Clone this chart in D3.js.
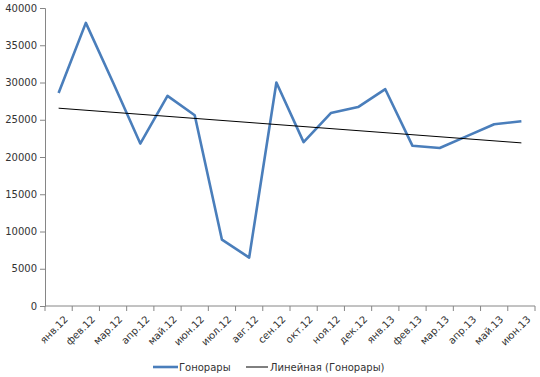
<!DOCTYPE html>
<html>
<head>
<meta charset="utf-8">
<script src="https://cdn.jsdelivr.net/npm/d3@7"></script>
<style>
  body { margin: 0; background: #fff; }
  text { font-family: "DejaVu Sans", sans-serif; fill: #333; }
</style>
</head>
<body>
<div id="chart"></div>
<script>
const months = ["янв.12", "фев.12", "мар.12", "апр.12", "май.12", "июн.12", "июл.12", "авг.12", "сен.12",
  "окт.12", "ноя.12", "дек.12", "янв.13", "фев.13", "мар.13", "апр.13", "май.13", "июн.13"];
const fees = [28600, 38000, 30000, 21800, 28200, 25600, 8900, 6500, 30000,
  22000, 25900, 26700, 29100, 21500, 21200, 22800, 24400, 24800];
const yTicks = [0, 5000, 10000, 15000, 20000, 25000, 30000, 35000, 40000];

const width = 540, height = 377;
const margin = { top: 8, right: 5, bottom: 71, left: 45 };
const w = width - margin.left - margin.right;
const h = height - margin.top - margin.bottom;
const lineColor = "#4A7EBB";
const axisColor = "#868686";

const svg = d3.select("#chart").append("svg")
  .attr("width", width).attr("height", height);
const g = svg.append("g")
  .attr("transform", "translate(" + margin.left + "," + margin.top + ")");

const x = d3.scaleBand().domain(months).range([0, w]);
const y = d3.scaleLinear().domain([0, 40000]).range([h, 0]);
const cx = d => x(d) + x.bandwidth() / 2;

// y axis
const yAxis = g.append("g")
  .call(d3.axisLeft(y).tickValues(yTicks).tickSize(5).tickPadding(3).tickFormat(d3.format("d")));
yAxis.select(".domain").attr("stroke", axisColor);
yAxis.selectAll(".tick line").attr("stroke", axisColor);
yAxis.selectAll(".tick text").style("font-size", "10px").attr("fill", "#333");

// x axis, ticks on category boundaries
const xAxis = g.append("g").attr("transform", "translate(0," + h + ")");
xAxis.append("line").attr("x1", 0).attr("x2", w).attr("stroke", axisColor);
xAxis.selectAll(".bt").data(months.concat(["end"])).join("line")
  .attr("class", "bt")
  .attr("x1", (d, i) => i * x.step()).attr("x2", (d, i) => i * x.step())
  .attr("y1", 0).attr("y2", 5).attr("stroke", axisColor);
xAxis.selectAll(".lbl").data(months).join("text")
  .attr("class", "lbl")
  .attr("text-anchor", "end")
  .style("font-size", "10px")
  .attr("transform", d => "translate(" + (cx(d) + 5) + ",9) rotate(-45)")
  .attr("dy", "0.7em")
  .text(d => d);

// linear trend (least squares)
const n = fees.length;
const mx = (n - 1) / 2;
const my = d3.mean(fees);
const sxy = d3.sum(fees, (v, i) => (i - mx) * (v - my));
const sxx = d3.sum(fees, (v, i) => (i - mx) * (i - mx));
const slope = sxy / sxx;
const trend = [0, n - 1].map(i => ({ m: months[i], v: my + slope * (i - mx) }));

// data line
g.append("path")
  .datum(months.map((m, i) => ({ m: m, v: fees[i] })))
  .attr("fill", "none")
  .attr("stroke", lineColor)
  .attr("stroke-width", 2.6)
  .attr("stroke-linejoin", "round")
  .attr("d", d3.line().x(d => cx(d.m)).y(d => y(d.v)));

g.append("path")
  .datum(trend)
  .attr("fill", "none")
  .attr("stroke", "#000")
  .attr("stroke-width", 1)
  .attr("d", d3.line().x(d => cx(d.m)).y(d => y(d.v)));

// legend
const legend = svg.append("g").attr("transform", "translate(0,367)");
legend.append("line").attr("x1", 153).attr("x2", 178).attr("stroke", lineColor).attr("stroke-width", 2.6);
legend.append("text").attr("x", 179).attr("dy", "0.35em").style("font-size", "10px").text("Гонорары");
legend.append("line").attr("x1", 246).attr("x2", 268).attr("stroke", "#000").attr("stroke-width", 1);
legend.append("text").attr("x", 270).attr("dy", "0.35em").style("font-size", "10px").text("Линейная (Гонорары)");
</script>
</body>
</html>
